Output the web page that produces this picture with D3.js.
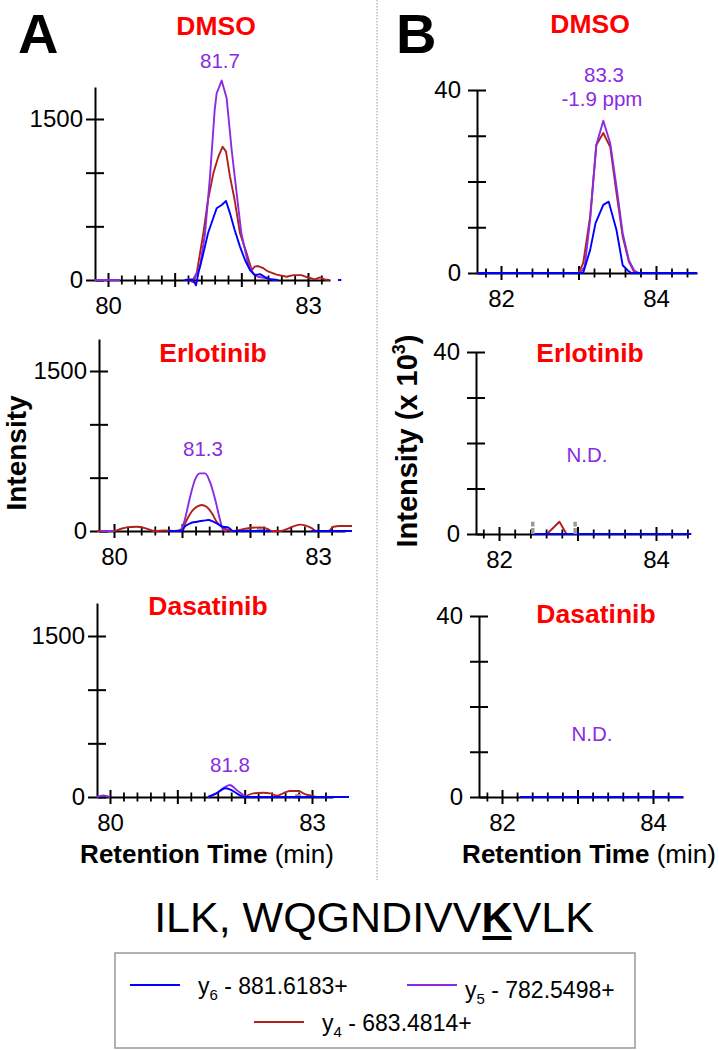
<!DOCTYPE html>
<html><head><meta charset="utf-8">
<script src="https://cdn.jsdelivr.net/npm/d3@7"></script>
<style>html,body{margin:0;padding:0;background:#fff;}svg{display:block;}</style>
</head><body><svg id="chart" width="719" height="1050"></svg>
<script>
// ---------------- DATA ----------------
const panelTitles = ["DMSO", "Erlotinib", "Dasatinib"];
const aXMajor = [80, 81, 82, 83];
const aXLabels = [80, 83];
const aYTicks = [0, 500, 1000, 1500];
const aYLabels = [0, 1500];
const bXMajor = [82, 83, 84];
const bXLabels = [82, 84];
const bYTicks = [0, 10, 20, 30, 40];
const bYLabels = [0, 40];
const legendNames = ["y6 - 881.6183+", "y5 - 782.5498+", "y4 - 683.4814+"];

// Panel A, DMSO (time min, intensity)
const aDmsoY5 = [[79.8,0],[80.18,0],null,[81.15,0],[81.28,10],[81.33,62],[81.38,124],[81.455,435],[81.53,963],[81.6,1584],[81.63,1740],[81.705,1858],[81.78,1693],[81.855,1211],[81.93,808],[82.0,435],[82.1,155],[82.18,62],[82.25,30],[82.38,15],[82.53,0]];
const aDmsoY4 = [[79.8,0],[80.18,0],null,[81.2,0],[81.28,-20],[81.33,62],[81.43,435],[81.5,745],[81.58,994],[81.655,1149],[81.72,1242],[81.77,1196],[81.83,963],[81.9,745],[81.98,435],[82.08,248],[82.155,93],[82.2,124],[82.25,130],[82.33,110],[82.4,80],[82.53,50],[82.68,30],[82.78,45],[82.9,45],[82.97,30],[83.1,5],[83.18,25],[83.25,5],[83.32,0]];
const aDmsoY6 = [[81.15,0],[81.28,0],[81.32,-50],[81.355,62],[81.43,248],[81.5,435],[81.63,668],[81.705,699],[81.77,736],[81.83,621],[81.9,466],[81.98,311],[82.055,186],[82.13,93],[82.2,46],[82.28,55],[82.35,30],[82.43,5],[82.55,0],null,[83.45,0],[83.5,0]];

// Panel A, Erlotinib
const aErlY5 = [[79.8,0],[80.0,0],null,[80.99,0],[81.04,103],[81.12,322],[81.19,478],[81.26,540],[81.34,540],[81.41,462],[81.49,290],[81.56,103],[81.6,15],[81.66,0]];
const aErlY4 = [[79.75,0],[80.0,0],[80.1,20],[80.19,34],[80.33,40],[80.47,25],[80.6,0],[80.75,5],[80.9,0],[81.0,20],[81.07,103],[81.14,181],[81.22,228],[81.29,244],[81.36,228],[81.44,166],[81.51,87],[81.58,40],[81.66,15],[81.75,0],[81.95,25],[82.15,34],[82.24,25],[82.32,0],[82.45,0],[82.55,20],[82.65,45],[82.74,60],[82.82,50],[82.9,30],[82.98,0],[83.15,0],[83.23,40],[83.32,47],[83.5,47]];
const aErlY6 = [[80.8,0],[81.0,0],[81.04,40],[81.12,72],[81.22,87],[81.32,97],[81.39,103],[81.46,87],[81.53,65],[81.6,40],[81.68,34],[81.75,0],[82.3,0],null,[82.9,0],[83.5,0]];
const aErlGray = [[81.9,12],[82.0,12],null,[82.1,12],[82.25,12]];

// Panel A, Dasatinib
const aDasY5 = [[79.8,0],[79.9,15],[80.0,0],null,[81.45,0],[81.58,34],[81.68,81],[81.78,112],[81.88,65],[81.98,19],[82.03,0]];
const aDasY4 = [[82.0,0],[82.13,34],[82.28,40],[82.38,34],[82.48,12],[82.57,34],[82.67,56],[82.8,56],[82.87,34],[82.97,12],[83.07,0]];
const aDasY6 = [[81.46,0],[81.58,34],[81.71,81],[81.78,72],[81.88,34],[82.0,0],[83.55,0]];
const aDasGray = [[82.75,12],[82.85,12],null,[82.92,12],[83.0,12]];

// Panel B, DMSO (intensity x 10^3)
const bDmsoY5 = [[81.7,0],[83.02,0],[83.08,1.4],[83.15,11.6],[83.23,28],[83.32,33.3],[83.41,28.3],[83.49,18.9],[83.57,8.7],[83.65,2.8],[83.72,0.5],[83.78,0]];
const bDmsoY4 = [[83.0,0],[83.06,2.1],[83.15,12.3],[83.23,28],[83.32,30.6],[83.41,27.5],[83.49,17.5],[83.57,8.0],[83.65,2.5],[83.71,0.5],[83.75,0]];
const bDmsoY6 = [[81.7,0],[83.06,0],[83.15,5],[83.22,10.9],[83.32,14.9],[83.39,15.6],[83.49,9.4],[83.57,1.7],[83.64,0.5],[83.68,0],[84.53,0]];

// Panel B, Erlotinib
const bErlY4 = [[82.61,0],[82.77,2.7],[82.86,0]];
const bErlY6 = [[82.43,0],[84.45,0]];
const bErlGray = [[82.43,0],[82.43,2.7],null,[82.97,0],[82.97,2.7]];

// Panel B, Dasatinib
const bDasY6 = [[82.24,0],[84.4,0]];

// ---------------- STYLE / LAYOUT ----------------
const FONT = '"Liberation Sans", Arial, Helvetica, sans-serif';
const PURPLE = '#8a2be2', RED = '#b0211c', BLUE = '#0000ff', TRED = '#ff0000', GRAY = '#9a9a9a';

const svg = d3.select('#chart').attr('font-family', FONT);

const panels = [
  {title: panelTitles[0], tx: 216, ty: 35, notes: [['81.7', 220, 68]],
   axisX: 95, xa: [80,108], xb: [83,308], xEnd: 330, y0: 280, yr: [1500,119], yTop: 87,
   major: aXMajor, labels: aXLabels, minor: [80.2,83.2], yTicks: aYTicks, yLabels: aYLabels, pad: 3,
   curve: d3.curveLinear, series: [[aDmsoY4,RED],[aDmsoY5,PURPLE],[aDmsoY6,BLUE]]},
  {title: panelTitles[1], tx: 213, ty: 362, notes: [['81.3', 203, 456]],
   axisX: 99, xa: [80,114], xb: [83,318], xEnd: 345, y0: 531, yr: [1500,371], yTop: 339,
   major: aXMajor, labels: aXLabels, minor: [80.2,83.2], yTicks: aYTicks, yLabels: aYLabels, pad: 3,
   curve: d3.curveMonotoneX, series: [[aErlY4,RED],[aErlY5,PURPLE],[aErlY6,BLUE]], gray: aErlGray},
  {title: panelTitles[2], tx: 208, ty: 615, notes: [['81.8', 230, 772]],
   axisX: 97, xa: [80,110], xb: [83,312], xEnd: 333, y0: 797, yr: [1500,636], yTop: 603,
   major: aXMajor, labels: aXLabels, minor: [80.2,83.2], yTicks: aYTicks, yLabels: aYLabels, pad: 3,
   curve: d3.curveMonotoneX, series: [[aDasY4,RED],[aDasY5,PURPLE],[aDasY6,BLUE]], gray: aDasGray},
  {title: panelTitles[0], tx: 590, ty: 33, notes: [['83.3', 604, 82], ['-1.9 ppm', 602, 106]],
   axisX: 477, xa: [82,501], xb: [84,656], xEnd: 697, y0: 273, yr: [40,90], yTop: 90,
   major: bXMajor, labels: bXLabels, minor: [81.8,84.4], yTicks: bYTicks, yLabels: bYLabels, pad: 7,
   curve: d3.curveLinear, series: [[bDmsoY4,RED],[bDmsoY5,PURPLE],[bDmsoY6,BLUE]]},
  {title: panelTitles[1], tx: 590, ty: 362, notes: [['N.D.', 587, 462]],
   axisX: 476, xa: [82,499], xb: [84,656], xEnd: 688, y0: 534, yr: [40,352], yTop: 352,
   major: bXMajor, labels: bXLabels, minor: [81.8,84.4], yTicks: bYTicks, yLabels: bYLabels, pad: 7,
   curve: d3.curveLinear, series: [[bErlY4,RED],[bErlY6,BLUE]], grayV: bErlGray},
  {title: panelTitles[2], tx: 596, ty: 623, notes: [['N.D.', 592, 741]],
   axisX: 479, xa: [82,502], xb: [84,653], xEnd: 683, y0: 797, yr: [40,616], yTop: 616,
   major: bXMajor, labels: bXLabels, minor: [81.8,84.2], yTicks: bYTicks, yLabels: bYLabels, pad: 7,
   curve: d3.curveLinear, series: [[bDasY6,BLUE]]}
];

function styleAxis(sel) {
  sel.attr('font-family', FONT).attr('font-size', 24);
  sel.selectAll('.domain').attr('stroke', '#000').attr('stroke-width', 2);
  sel.selectAll('.tick line').attr('stroke', '#000').attr('stroke-width', 2);
  sel.selectAll('.tick text').attr('fill', '#000');
}

panels.forEach(p => {
  const g = svg.append('g');
  const x = d3.scaleLinear().domain([p.xa[0], p.xb[0]]).range([p.xa[1], p.xb[1]]);
  x.domain([x.invert(p.axisX), x.invert(p.xEnd)]).range([p.axisX, p.xEnd]);
  const y = d3.scaleLinear().domain([0, p.yr[0]]).range([p.y0, p.yr[1]]);
  y.domain([0, y.invert(p.yTop)]).range([p.y0, p.yTop]);

  // axis lines
  g.append('g').attr('transform', `translate(0,${p.y0})`)
    .call(d3.axisBottom(x).tickValues([]).tickSizeOuter(0)).call(styleAxis);
  g.append('g').attr('transform', `translate(${p.axisX},0)`)
    .call(d3.axisLeft(y).tickValues([]).tickSizeOuter(0)).call(styleAxis);

  // minor x ticks
  const minors = d3.range(Math.round(p.minor[0]*10), Math.round(p.minor[1]*10) + 1, 2)
    .map(v => v / 10).filter(v => Math.abs(v - Math.round(v)) > 1e-6);
  const gm = g.append('g').attr('transform', `translate(0,${p.y0 - 4.5})`)
    .call(d3.axisBottom(x).tickValues(minors).tickSize(9).tickFormat(''));
  gm.select('.domain').remove();
  gm.call(styleAxis);
  gm.selectAll('.tick line').attr('stroke-width', 1.8);

  // major x ticks with labels
  const gx = g.append('g').attr('transform', `translate(0,${p.y0 - 7})`)
    .call(d3.axisBottom(x).tickValues(p.major).tickSize(14).tickPadding(10)
      .tickFormat(d => p.labels.includes(d) ? d : ''));
  gx.select('.domain').remove();
  gx.call(styleAxis);

  // y ticks with labels
  const gy = g.append('g').attr('transform', `translate(${p.axisX + 9},0)`)
    .call(d3.axisLeft(y).tickValues(p.yTicks).tickSize(18).tickPadding(p.pad)
      .tickFormat(d => p.yLabels.includes(d) ? d : ''));
  gy.select('.domain').remove();
  gy.call(styleAxis);

  // grey markers
  const lineG = d3.line().defined(d => d != null).x(d => x(d[0])).y(d => y(d[1]));
  if (p.gray) g.append('path').attr('d', lineG(p.gray)).attr('fill', 'none')
    .attr('stroke', GRAY).attr('stroke-width', 3.5).attr('stroke-dasharray', '6,3');

  // series
  const line = d3.line().defined(d => d != null).x(d => x(d[0])).y(d => y(d[1])).curve(p.curve);
  p.series.forEach(([data, color]) => {
    g.append('path').attr('d', line(data)).attr('fill', 'none')
      .attr('stroke', color).attr('stroke-width', 1.9).attr('stroke-linejoin', 'round');
  });
  if (p.grayV) g.append('path').attr('d', lineG(p.grayV)).attr('fill', 'none')
    .attr('stroke', GRAY).attr('stroke-width', 3.5).attr('stroke-dasharray', '6,1.5');

  // titles
  g.append('text').attr('x', p.tx).attr('y', p.ty).attr('text-anchor', 'middle')
    .attr('font-size', 26.5).attr('font-weight', 'bold').attr('fill', TRED).text(p.title);
  p.notes.forEach(([t, nx, ny]) => {
    g.append('text').attr('x', nx).attr('y', ny).attr('text-anchor', 'middle')
      .attr('font-size', 20.5).attr('fill', PURPLE).text(t);
  });
});

// panel letters
svg.append('text').attr('x', 18).attr('y', 53).attr('font-size', 56).attr('font-weight', 'bold').text('A');
svg.append('text').attr('x', 396).attr('y', 53).attr('font-size', 56).attr('font-weight', 'bold').text('B');

// divider
svg.append('line').attr('x1', 377).attr('x2', 377).attr('y1', 0).attr('y2', 880)
  .attr('stroke', '#aac0d6').attr('stroke-width', 1.5).attr('stroke-dasharray', '1.5,1.5');

// y-axis titles
svg.append('text').attr('transform', 'translate(26,453) rotate(-90)').attr('text-anchor', 'middle')
  .attr('font-size', 28).attr('font-weight', 'bold').text('Intensity');
const yb = svg.append('text').attr('transform', 'translate(417,441) rotate(-90)').attr('text-anchor', 'middle')
  .attr('font-size', 29).attr('font-weight', 'bold');
yb.append('tspan').text('Intensity (x 10');
yb.append('tspan').attr('font-size', 18).attr('dy', -12).text('3');
yb.append('tspan').attr('dy', 12).text(')');

// x-axis titles
[[207, 863], [589, 863]].forEach(([cx, cy]) => {
  const t = svg.append('text').attr('x', cx).attr('y', cy).attr('text-anchor', 'middle').attr('font-size', 26);
  t.append('tspan').attr('font-weight', 'bold').text('Retention Time');
  t.append('tspan').text(' (min)');
});

// peptide title
const pt = svg.append('text').attr('x', 374).attr('y', 932).attr('text-anchor', 'middle').attr('font-size', 43);
pt.append('tspan').text('ILK, WQGNDIVV');
pt.append('tspan').attr('font-weight', 'bold').text('K');
pt.append('tspan').text('VLK');
const node = pt.node();
const k0 = node.getStartPositionOfChar(13).x, k1 = node.getEndPositionOfChar(13).x;
svg.append('rect').attr('x', k0 + 1).attr('y', 936).attr('width', k1 - k0 - 2).attr('height', 4).attr('fill', '#000');

// legend
svg.append('rect').attr('x', 115).attr('y', 953).attr('width', 520).attr('height', 95)
  .attr('fill', 'none').attr('stroke', '#999').attr('stroke-width', 1.5);
const legendItems = [
  {name: legendNames[0], color: BLUE, lx: 130, ly: 985, tx: 198, ty: 994},
  {name: legendNames[1], color: PURPLE, lx: 407, ly: 985, tx: 465, ty: 998},
  {name: legendNames[2], color: RED, lx: 254, ly: 1022, tx: 322, ty: 1031}
];
legendItems.forEach(it => {
  svg.append('line').attr('x1', it.lx).attr('x2', it.lx + 50).attr('y1', it.ly).attr('y2', it.ly)
    .attr('stroke', it.color).attr('stroke-width', 2);
  const t = svg.append('text').attr('x', it.tx).attr('y', it.ty).attr('font-size', 23);
  t.append('tspan').text(it.name[0]);
  t.append('tspan').attr('font-size', 15).attr('dy', 6).text(it.name[1]);
  t.append('tspan').attr('dy', -6).text(it.name.slice(2));
});
</script></body></html>
